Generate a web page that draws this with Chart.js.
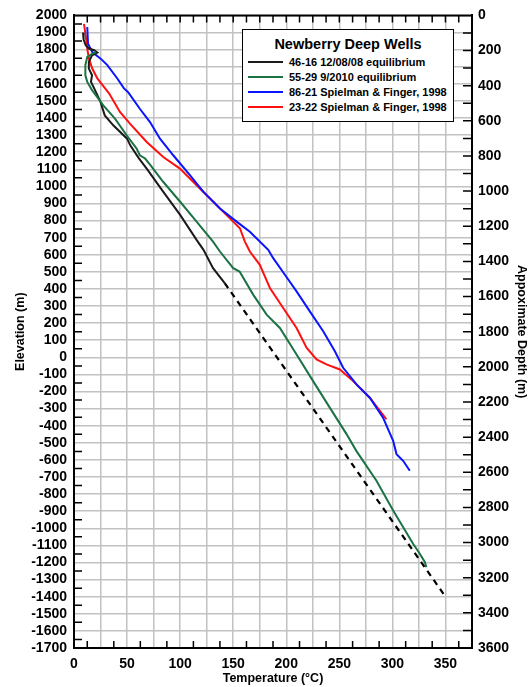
<!DOCTYPE html>
<html>
<head>
<meta charset="utf-8">
<script src="https://cdn.jsdelivr.net/npm/chart.js@4.4.1/dist/chart.umd.min.js"></script>
<style>
  body { margin: 0; background: #fff; }
  #wrap { position: relative; width: 528px; height: 687px; }
  #legendBox {
    position: absolute; left: 242px; top: 29px; width: 212px; height: 93px;
    box-sizing: border-box; border: 1.5px solid #000; background: #fff;
    font-family: "Liberation Sans", Arial, sans-serif; font-weight: bold; color: #000;
  }
  #legendBox .ttl { position: absolute; left: 0; right: 0; top: 6px; text-align: center; font-size: 14.5px; line-height: 16px; }
  #legendBox .row { position: absolute; left: 0; right: 0; height: 14px; font-size: 11px; line-height: 14px; }
  #legendBox .row i { position: absolute; left: 5px; top: 6px; width: 35px; height: 2px; }
  #legendBox .row span { position: absolute; left: 46px; top: 0; white-space: nowrap; }
</style>
</head>
<body>
<div id="wrap">
  <canvas id="chart" width="528" height="687"></canvas>
  <div id="legendBox"><div class="ttl">Newberry Deep Wells</div></div>
</div>
<script>
// temperature (°C) vs elevation (m)
const well4616Temp = [8.5, 9, 11, 14, 19, 22, 17, 14, 14, 17, 16, 19, 22, 25, 29, 37, 50, 53, 61, 68.5, 84, 100, 115.5, 122, 131, 142];
const well4616Elev = [1900, 1860, 1825, 1806, 1796, 1783, 1767, 1728, 1689, 1650, 1611, 1573, 1534, 1493, 1415, 1357, 1279, 1240, 1165, 1104, 969, 833, 687, 629, 522, 434];

const trendTemp = [142, 350];
const trendElev = [434, -1400];

const well5529Temp = [21, 17, 12.5, 10.7, 10.7, 12.5, 17, 20.5, 27.6, 38.6, 49.6, 59, 62, 67, 72, 84, 100, 115.5, 131, 137.5, 150, 156, 168.8, 181.5, 194, 209.7, 225.3, 241, 256.8, 266, 285, 300.7, 319.5, 325.8, 330.5, 332];
const well5529Elev = [1786, 1775, 1757, 1709, 1650, 1611, 1563, 1534, 1474, 1396, 1299, 1221, 1182, 1163, 1124, 1027, 910, 794, 677, 619, 522, 502, 367, 250, 172, 17, -139, -294, -449, -547, -722, -896, -1090, -1149, -1197, -1227];

const well8621Temp = [12.5, 13.2, 17.2, 25.1, 31.4, 40.8, 47.1, 51, 62, 71.6, 81, 93.5, 109.2, 121.8, 137.5, 153.2, 165.7, 183, 187.7, 198.7, 209.7, 222.2, 234.8, 245.8, 253.6, 266.2, 278.7, 291.2, 300.7, 303.9, 310.1, 316.4];
const well8621Elev = [1932, 1835, 1786, 1747, 1709, 1631, 1573, 1551, 1454, 1376, 1279, 1182, 1066, 969, 871, 794, 735, 629, 580, 483, 386, 269, 153, 36, -61, -158, -236, -353, -488, -566, -605, -663];

const well2322Temp = [9.4, 11, 12.5, 14.1, 17.2, 22, 28.2, 33, 43.3, 52.7, 68.5, 84.1, 99.8, 115.5, 131.2, 146.9, 156.3, 161, 165.7, 175.1, 184.6, 197.1, 209.7, 219.1, 228.5, 237.9, 250.5, 263, 278.7, 294.4];
const well2322Elev = [1951, 1883, 1806, 1747, 1689, 1631, 1582, 1544, 1435, 1367, 1260, 1172, 1104, 1007, 910, 813, 755, 677, 619, 541, 405, 289, 172, 56, -12, -41, -71, -139, -236, -362];

const seriesLabels = ['46-16 12/08/08 equilibrium', '55-29 9/2010 equilibrium', '86-21 Spielman & Finger, 1998', '23-22 Spielman & Finger, 1998'];
const seriesColors = ['#1a1a1a', '#1b7343', '#0a14ff', '#ff1010'];

function pts(xs, ys) {
    return xs.map((x, i) => ({ x: x, y: ys[i] }));
}

const gridColor = '#c2c2c2';
const tickFont = { size: 14, weight: 'bold' };
const titleFont = { size: 12.5, weight: 'bold', lineHeight: 1 };
const plain = v => String(v);

Chart.defaults.font.family = '"Liberation Sans", Arial, sans-serif';
Chart.defaults.color = '#000';

// axis frame: top border and the small inward tick marks
const frameTicks = {
    id: 'frameTicks',
    afterDraw(chart) {
        const { ctx, chartArea: a, scales } = chart;
        ctx.save();
        ctx.strokeStyle = '#000';
        ctx.lineWidth = 2;
        ctx.beginPath();
        ctx.moveTo(a.left - 1, a.top);
        ctx.lineTo(a.right + 1, a.top);
        ctx.stroke();

        ctx.lineWidth = 1.5;
        ctx.beginPath();
        for (let t = 12.5; t < 375; t += 12.5) {
            const px = scales.x.getPixelForValue(t);
            ctx.moveTo(px, a.top);
            ctx.lineTo(px, a.top + 7);
            if (t % 25 !== 0) {
                ctx.moveTo(px, a.bottom);
                ctx.lineTo(px, a.bottom - 7);
            }
        }
        for (let e = -1650; e < 2000; e += 100) {
            const py = scales.y.getPixelForValue(e);
            ctx.moveTo(a.left, py);
            ctx.lineTo(a.left + 8, py);
        }
        for (let d = 100; d < 3600; d += 100) {
            const py = scales.y2.getPixelForValue(d);
            ctx.moveTo(a.right, py);
            ctx.lineTo(a.right - 9, py);
        }
        ctx.stroke();
        ctx.restore();
    }
};

const ctx = document.getElementById('chart').getContext('2d');
new Chart(ctx, {
    type: 'scatter',
    data: {
        datasets: [
            { label: 'trend', data: pts(trendTemp, trendElev), borderColor: '#000', borderWidth: 2.2, borderDash: [6, 5] },
            { label: seriesLabels[1], data: pts(well5529Temp, well5529Elev), borderColor: seriesColors[1] },
            { label: seriesLabels[0], data: pts(well4616Temp, well4616Elev), borderColor: seriesColors[0] },
            { label: seriesLabels[2], data: pts(well8621Temp, well8621Elev), borderColor: seriesColors[2] },
            { label: seriesLabels[3], data: pts(well2322Temp, well2322Elev), borderColor: seriesColors[3] }
        ].map(d => Object.assign({ showLine: true, pointRadius: 0, borderWidth: 2, tension: 0, fill: false }, d))
    },
    options: {
        responsive: false,
        animation: false,
        devicePixelRatio: 1,
        layout: { padding: { top: 13, left: 0, right: 0, bottom: 0 } },
        plugins: { legend: { display: false }, tooltip: { enabled: false } },
        scales: {
            x: {
                type: 'linear', min: 0, max: 375,
                grid: { color: gridColor, lineWidth: 1.5, drawTicks: false },
                border: { color: '#000', width: 2 },
                ticks: {
                    stepSize: 25, autoSkip: false, maxRotation: 0, padding: 8, font: tickFont,
                    callback: v => (v % 50 === 0 && v <= 350) ? String(v) : ''
                },
                title: { display: true, text: 'Temperature (°C)', font: titleFont, padding: { top: 0, bottom: 2 } },
                afterFit: s => { s.height = 39; }
            },
            y: {
                type: 'linear', position: 'left', min: -1700, max: 2000,
                grid: { color: gridColor, lineWidth: 1.5, drawTicks: false },
                border: { color: '#000', width: 2 },
                ticks: { stepSize: 100, autoSkip: false, padding: 7, font: tickFont, callback: plain },
                title: { display: true, text: 'Elevation (m)', font: titleFont, padding: { top: 14, bottom: 0 } },
                afterFit: s => { s.width = 74; }
            },
            y2: {
                type: 'linear', position: 'right', min: 0, max: 3600, reverse: true,
                grid: { display: false, drawTicks: false },
                border: { color: '#000', width: 2 },
                ticks: { stepSize: 200, autoSkip: false, padding: 6, font: tickFont, callback: plain },
                title: { display: true, text: 'Appoximate Depth (m)', font: titleFont, padding: { top: 0, bottom: 0 } },
                afterFit: s => { s.width = 56; }
            }
        }
    },
    plugins: [frameTicks]
});

// legend box inside the plot
const legendBox = document.getElementById('legendBox');
const rowTops = [24.5, 40, 55, 70];
seriesLabels.forEach((lab, i) => {
    const row = document.createElement('div');
    row.className = 'row';
    row.style.top = rowTops[i] + 'px';
    const line = document.createElement('i');
    line.style.background = seriesColors[i];
    const txt = document.createElement('span');
    txt.textContent = lab;
    row.appendChild(line);
    row.appendChild(txt);
    legendBox.appendChild(row);
});
</script>
</body>
</html>
